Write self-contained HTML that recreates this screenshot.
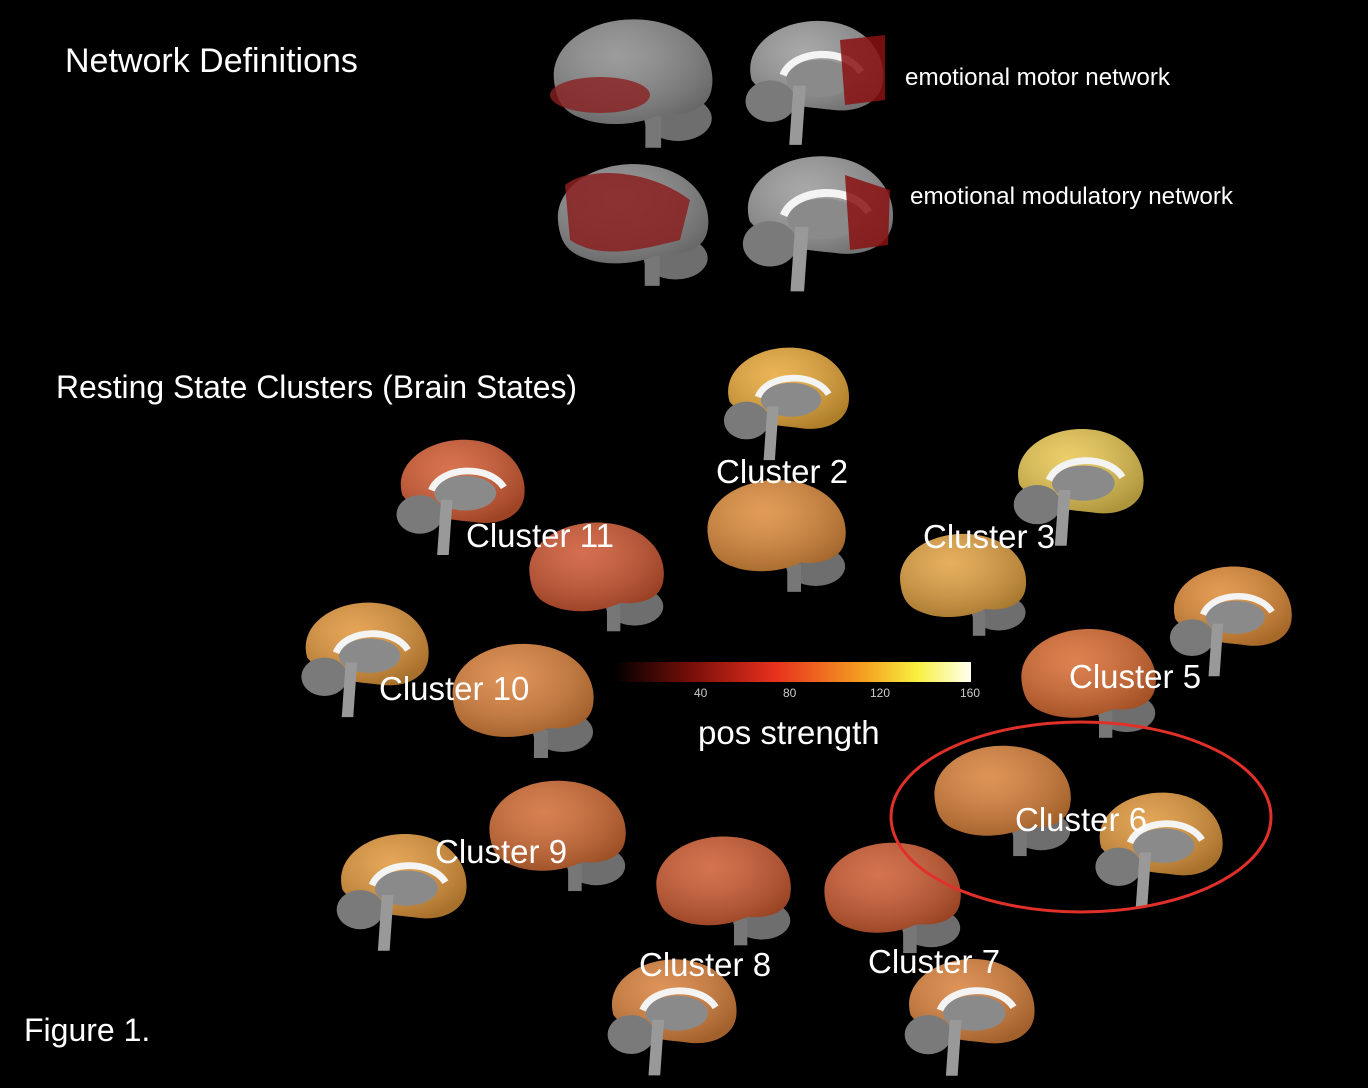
<!DOCTYPE html>
<html><head><meta charset="utf-8"><style>
html,body{margin:0;padding:0;background:#000;width:1368px;height:1088px;overflow:hidden}
text{font-family:"Liberation Sans",sans-serif;fill:#fff}
</style></head><body>
<svg width="1368" height="1088" viewBox="0 0 1368 1088" xmlns="http://www.w3.org/2000/svg">
<defs>
<radialGradient id="sh" cx="40%" cy="35%" r="70%"><stop offset="0" stop-color="#fff" stop-opacity="0.15"/><stop offset="1" stop-color="#000" stop-opacity="0.25"/></radialGradient>
<symbol id="lat" viewBox="0 0 150 120">
<ellipse cx="115" cy="92" rx="30" ry="20" fill="#6e6e6e"/>
<rect x="86" y="90" width="14" height="28" fill="#777"/>
<path d="M5 60 C0 25 40 2 80 4 C125 6 150 35 145 65 C142 85 120 90 100 88 C80 98 50 100 30 92 C12 86 7 75 5 60Z" fill="currentColor"/>
<path d="M5 60 C0 25 40 2 80 4 C125 6 150 35 145 65 C142 85 120 90 100 88 C80 98 50 100 30 92 C12 86 7 75 5 60Z" fill="url(#sh)"/>
</symbol>
<symbol id="med" viewBox="0 0 150 125">
<path d="M20 60 C10 25 50 0 90 3 C130 6 150 35 146 62 C143 82 120 92 95 88 C70 85 40 85 20 60Z" fill="currentColor"/>
<path d="M20 60 C10 25 50 0 90 3 C130 6 150 35 146 62 C143 82 120 92 95 88 C70 85 40 85 20 60Z" fill="url(#sh)"/>
<ellipse cx="85" cy="58" rx="32" ry="18" fill="#8a8a8a"/>
<path d="M50 55 C60 30 110 28 125 52" stroke="#f4f4f4" stroke-width="7" fill="none"/>
<ellipse cx="38" cy="80" rx="24" ry="20" fill="#7a7a7a"/>
<path d="M60 65 L72 65 L68 122 L56 122Z" fill="#999"/>
</symbol>
<linearGradient id="cb" x1="0" x2="1"><stop offset="0" stop-color="#000"/><stop offset="0.22" stop-color="#7a0f0a"/><stop offset="0.45" stop-color="#e8301e"/><stop offset="0.7" stop-color="#f4a020"/><stop offset="0.85" stop-color="#f8f040"/><stop offset="1" stop-color="#fffff0"/></linearGradient>
</defs>

<text x="65" y="72" font-size="34">Network Definitions</text>
<use href="#lat" x="548" y="15" width="170" height="135" color="#8a8a8a"/>
<ellipse cx="600" cy="95" rx="50" ry="18" fill="#8a2020" opacity="0.8"/>
<use href="#med" x="728" y="18" width="162" height="130" color="#999"/>
<path d="M840 40 L885 35 L885 100 L845 105Z" fill="#8a1010" opacity="0.85"/>
<text x="905" y="85" font-size="24" textLength="265" lengthAdjust="spacingAndGlyphs">emotional motor network</text>
<use href="#lat" x="553" y="153" width="160" height="142" color="#8a8a8a"/>
<path d="M565 185 C590 165 650 170 690 200 L680 240 C640 250 600 260 570 240Z" fill="#8a2020" opacity="0.85"/>
<use href="#med" x="727" y="153" width="170" height="142" color="#999"/>
<path d="M845 175 L890 190 L888 245 L850 250Z" fill="#8a1010" opacity="0.85"/>
<text x="910" y="204" font-size="24" textLength="323" lengthAdjust="spacingAndGlyphs">emotional modulatory network</text>

<text x="56" y="398" font-size="32" textLength="521" lengthAdjust="spacingAndGlyphs">Resting State Clusters (Brain States)</text>

<use href="#med" x="706" y="345" width="151" height="118" color="#e8a838"/>
<use href="#lat" x="703" y="470" width="147" height="130" color="#dc8a3a"/>
<use href="#med" x="383" y="435" width="145" height="125" color="#d25a30"/>
<use href="#lat" x="525" y="517" width="143" height="118" color="#cc5530"/>
<use href="#med" x="1000" y="425" width="147" height="125" color="#e8c650"/>
<use href="#lat" x="896" y="528" width="134" height="112" color="#e0a040"/>
<use href="#med" x="1157" y="563" width="138" height="117" color="#de8a35"/>
<use href="#lat" x="1017" y="625" width="143" height="115" color="#d86a30"/>
<use href="#med" x="287" y="600" width="146" height="120" color="#e0953a"/>
<use href="#lat" x="448" y="640" width="150" height="120" color="#d9803a"/>
<use href="#lat" x="930" y="740" width="145" height="120" color="#d88038"/>
<use href="#med" x="1080" y="790" width="148" height="120" color="#df963a"/>
<use href="#lat" x="485" y="775" width="145" height="120" color="#d06a32"/>
<use href="#med" x="323" y="830" width="147" height="125" color="#e0963a"/>
<use href="#lat" x="652" y="830" width="143" height="120" color="#cc5a30"/>
<use href="#med" x="594" y="955" width="146" height="125" color="#d8803a"/>
<use href="#lat" x="820" y="838" width="145" height="118" color="#cc5a30"/>
<use href="#med" x="891" y="955" width="147" height="125" color="#d8803a"/>

<g font-size="33">
<text x="716" y="483">Cluster 2</text>
<text x="466" y="547">Cluster 11</text>
<text x="923" y="548">Cluster 3</text>
<text x="1069" y="688">Cluster 5</text>
<text x="379" y="700">Cluster 10</text>
<text x="1015" y="831">Cluster 6</text>
<text x="435" y="863">Cluster 9</text>
<text x="639" y="976">Cluster 8</text>
<text x="868" y="973">Cluster 7</text>
<text x="698" y="744">pos strength</text>
<text x="24" y="1041" font-size="32">Figure 1.</text>
</g>

<rect x="614" y="662" width="357" height="20" fill="url(#cb)"/>
<g font-size="12">
<text x="694" y="697" style="fill:#ccc">40</text>
<text x="783" y="697" style="fill:#ccc">80</text>
<text x="870" y="697" style="fill:#ccc">120</text>
<text x="960" y="697" style="fill:#ccc">160</text>
</g>

<ellipse cx="1081" cy="817" rx="190" ry="95" fill="none" stroke="#e0302a" stroke-width="3"/>
</svg>
</body></html>
